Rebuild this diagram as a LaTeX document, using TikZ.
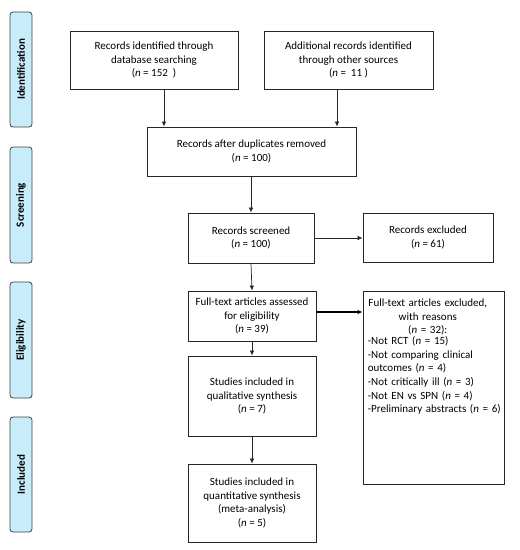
\documentclass[tikz,border=0pt]{standalone}
\usepackage{fontspec}
\setmainfont{Carlito}
\usetikzlibrary{arrows.meta,calc}
\begin{document}
\begin{tikzpicture}[x=1pt,y=-1pt,
  box/.style={draw=black!85,line width=0.8pt,fill=white,align=center,inner sep=2pt,
    font=\fontsize{11}{13.7}\selectfont},
  phase/.style={draw=black!75,line width=0.8pt,fill=cyan!22!white,rounded corners=3pt,
    minimum width=22pt,font=\bfseries\fontsize{11}{13}\selectfont},
  arr/.style={draw=black!85,line width=0.7pt,-{Latex[length=5pt,width=4.5pt]}},
  arrb/.style={draw=black,line width=1.3pt,-{Latex[length=5pt,width=4.5pt]}}]
\useasboundingbox (0,0) rectangle (520,550);
% phase labels
\node[phase,minimum height=115pt] (id) at (21,69.5) {};
\node[rotate=90,font=\bfseries\fontsize{11}{13}\selectfont] at (id.center) {Identification};
\node[phase,minimum height=116pt] (scr) at (21,205) {};
\node[rotate=90,font=\bfseries\fontsize{11}{13}\selectfont] at (scr.center) {Screening};
\node[phase,minimum height=116pt] (eli) at (21,340) {};
\node[rotate=90,font=\bfseries\fontsize{11}{13}\selectfont] at (eli.center) {Eligibility};
\node[phase,minimum height=115pt] (inc) at (21,474.5) {};
\node[rotate=90,font=\bfseries\fontsize{11}{13}\selectfont] at (inc.center) {Included};
% boxes
\node[box,minimum width=168pt,minimum height=58pt] (b1) at (154,60)
  {Records identified through\\database searching\\(\textit{n} = 152~~)};
\node[box,minimum width=169pt,minimum height=58pt] (b2) at (348.5,60)
  {Additional records identified\\through other sources\\(\textit{n} = ~11~)};
\node[box,minimum width=209pt,minimum height=49pt] (b3) at (251.5,151.5)
  {Records after duplicates removed\\(\textit{n} = 100)};
\node[box,minimum width=126pt,minimum height=50pt] (b4) at (251,238)
  {Records screened\\(\textit{n} = 100)};
\node[box,minimum width=130pt,minimum height=49pt] (ex1) at (428,237.5)
  {Records excluded\\(\textit{n} = 61)};
\node[box,minimum width=128pt,minimum height=50pt] (b5) at (252,316)
  {Full-text articles assessed\\for eligibility\\(\textit{n} = 39)};
\node[box,minimum width=141pt,minimum height=193pt] (ex2) at (433.5,387.5) {};
\node[anchor=north west,inner sep=0pt,text width=134pt,
  font=\fontsize{11}{13.7}\selectfont] (ex2t) at ($(ex2.north west)+(5,8)$)
  {\parbox{120pt}{\centering Full-text articles excluded,\\with reasons\\(\textit{n} = 32):}\par
   {\raggedright -Not RCT (\textit{n} = 15)\\-Not comparing clinical\\outcomes (\textit{n} = 4)\\-Not critically ill (\textit{n} = 3)\\-Not EN vs SPN (\textit{n} = 4)\\-Preliminary abstracts (\textit{n} = 6)\par}};
\node[box,minimum width=128pt,minimum height=80pt] (b6) at (252,396)
  {Studies included in\\qualitative synthesis\\(\textit{n} = 7)};
\node[box,minimum width=128pt,minimum height=78pt] (b7) at (252,503)
  {Studies included in\\quantitative synthesis\\(meta-analysis)\\(\textit{n} = 5)};
% arrows
\draw[arr] ([xshift=10pt]b1.south) -- ([xshift=10pt]b1.south |- b3.north);
\draw[arr] ([xshift=-11.5pt]b2.south) -- ([xshift=-11.5pt]b2.south |- b3.north);
\draw[arr] (b3.south -| b4.north) -- (b4.north);
\draw[arr] (b4.east) -- (b4.east -| ex1.west);
\draw[arr] (b4.south) -- (b5.north);
\draw[arrb] ([yshift=4pt]b5.east) -- ([yshift=4pt]b5.east -| ex2.west);
\draw[arr] (b5.south) -- (b6.north);
\draw[arr] (b6.south) -- (b7.north);
\end{tikzpicture}
\end{document}
